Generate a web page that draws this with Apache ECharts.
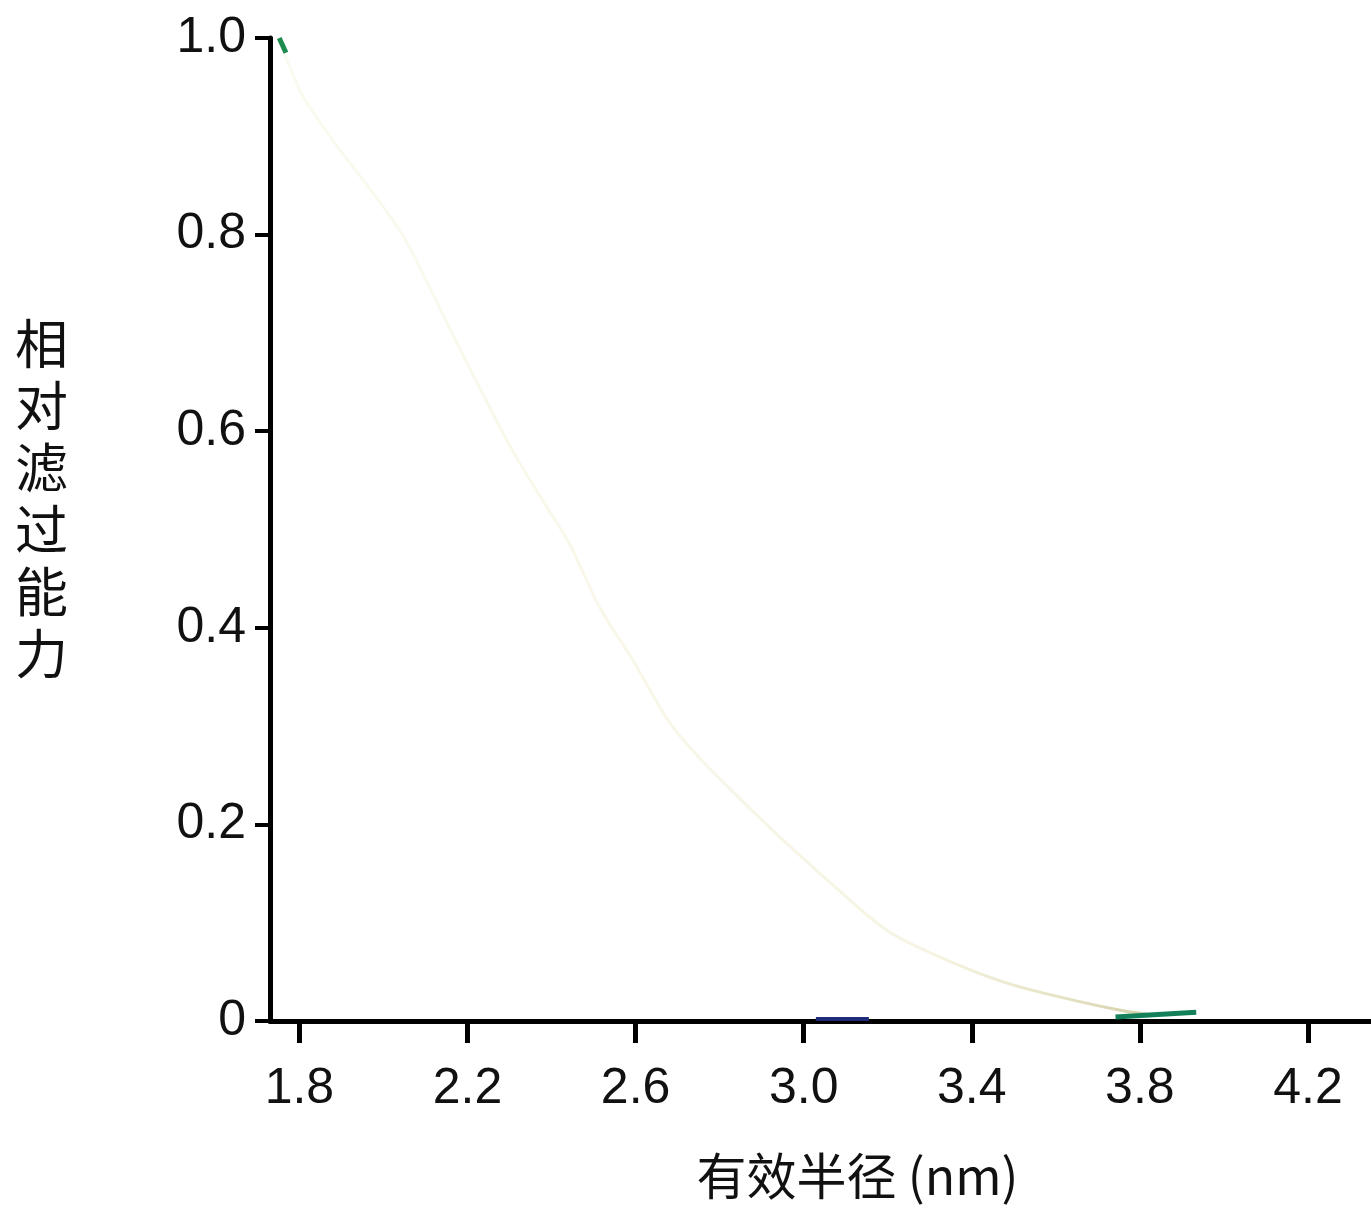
<!DOCTYPE html>
<html>
<head>
<meta charset="utf-8">
<script src="https://cdn.jsdelivr.net/npm/echarts@6/dist/echarts.min.js"></script>
<style>html,body{margin:0;padding:0;background:#fff}#c{width:1371px;height:1208px}</style>
</head>
<body>
<div id="c"></div>
<script>
// --- data ---
const xTicks = [1.8, 2.2, 2.6, 3.0, 3.4, 3.8, 4.2];
const yTicks = [0, 0.2, 0.4, 0.6, 0.8, 1.0];
const curveX = [1.755, 1.807, 1.888, 1.974, 2.045, 2.109, 2.164, 2.228, 2.306, 2.387, 2.442, 2.513, 2.592, 2.680, 2.751, 2.839, 2.941, 3.060, 3.202, 3.362, 3.495, 3.654, 3.766, 3.820];
const curveY = [0.995, 0.942, 0.891, 0.843, 0.800, 0.747, 0.699, 0.645, 0.581, 0.524, 0.486, 0.422, 0.368, 0.304, 0.268, 0.230, 0.188, 0.142, 0.091, 0.058, 0.037, 0.020, 0.010, 0.007];
const topGreenX = [1.752, 1.768];
const topGreenY = [1.0, 0.985];
const navyX = [3.029, 3.155];
const navyY = [0.002, 0.002];
const tailGreenX = [3.742, 3.934];
const tailGreenY = [0.004, 0.009];

const zip = (a, b) => a.map((v, i) => [v, b[i]]);
const FONT = '"Liberation Sans", Arial, sans-serif';

const chart = echarts.init(document.getElementById('c'));
chart.setOption({
  backgroundColor: '#ffffff',
  animation: false,
  grid: { left: 270, top: 38, right: 0, bottom: 187, containLabel: false },
  xAxis: {
    type: 'value', min: 1.73, max: 4.35,
    splitLine: { show: false },
    axisLine: { show: true, onZero: false, lineStyle: { color: '#000', width: 5 } },
    axisTick: { show: true, customValues: xTicks, length: 22, lineStyle: { color: '#000', width: 5 } },
    axisLabel: { customValues: xTicks, margin: 43, color: '#111', fontSize: 50, fontFamily: FONT,
      formatter: v => Number(v).toFixed(1) },
    name: '有效半径 (nm)', nameLocation: 'middle', nameGap: 130,
    nameTextStyle: { color: '#111', fontSize: 50, fontFamily: '"Noto Sans CJK SC", ' + FONT, padding: [0, 0, 0, 74] }
  },
  yAxis: {
    type: 'value', min: 0, max: 1, interval: 0.2,
    splitLine: { show: false },
    axisLine: { show: true, lineStyle: { color: '#000', width: 5 } },
    axisTick: { show: true, length: 15, lineStyle: { color: '#000', width: 4 } },
    axisLabel: { margin: 24, color: '#111', fontSize: 50, fontFamily: FONT,
      formatter: v => v === 0 ? '0' : Number(v).toFixed(1) },
    name: '相\n对\n滤\n过\n能\n力\n', nameLocation: 'middle', nameRotate: 0, nameGap: 202,
    nameTextStyle: { color: '#111', fontSize: 53, lineHeight: 62, fontFamily: '"Noto Sans CJK SC", sans-serif',
      align: 'right', verticalAlign: 'middle' }
  },
  series: [
    { type: 'line', data: zip(curveX, curveY), smooth: 0.3, symbol: 'none',
      lineStyle: { width: 3, color: new echarts.graphic.LinearGradient(0, 0, 1, 0, [
        { offset: 0, color: '#fbfaf0' }, { offset: 0.75, color: '#f6f4e2' }, { offset: 0.9, color: '#e6e2c4' }, { offset: 1, color: '#d2cea8' }]) } },
    { type: 'line', data: zip(topGreenX, topGreenY), symbol: 'none', lineStyle: { width: 5, color: '#1d8a4e' } },
    { type: 'line', data: zip(navyX, navyY), symbol: 'none', lineStyle: { width: 4, color: '#1f2a78' } },
    { type: 'line', data: zip(tailGreenX, tailGreenY), symbol: 'none', lineStyle: { width: 5, color: '#13805a' } }
  ]
});
</script>
</body>
</html>
